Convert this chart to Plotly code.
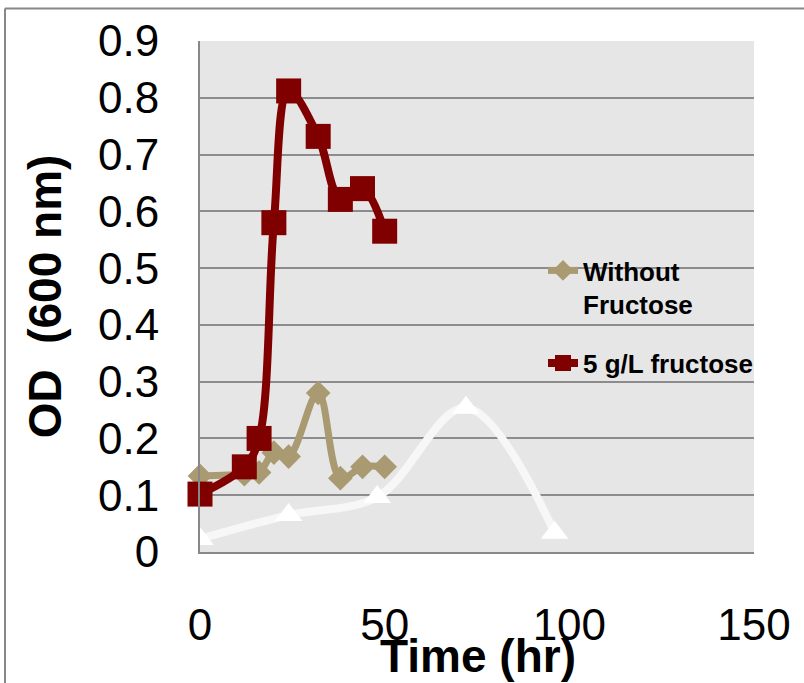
import plotly.graph_objects as go

# Data
time_main = [0, 12, 16, 20, 24, 32, 38, 44, 50]
without_fructose = [0.134, 0.137, 0.14, 0.175, 0.168, 0.28, 0.13, 0.15, 0.15]
fructose_5gl = [0.102, 0.15, 0.20, 0.58, 0.812, 0.732, 0.621, 0.64, 0.565]
time_other = [0, 24, 48, 72, 96]
other_series = [0.023, 0.065, 0.097, 0.254, 0.034]

x_ticks = [0, 50, 100, 150]
y_ticks = [0, 0.1, 0.2, 0.3, 0.4, 0.5, 0.6, 0.7, 0.8, 0.9]

FONT = "Liberation Sans, Arial, sans-serif"
L, R, T, B = 200, 50, 41, 131
W, H = 804, 683
pw, ph = W - L - R, H - T - B

def px(xp):
    return (xp - L) / pw

def py(yp):
    return (H - B - yp) / ph

fig = go.Figure()

fig.add_trace(go.Scatter(
    x=time_other, y=other_series, mode="lines+markers",
    line=dict(color="#f7f7f7", width=8, shape="spline"),
    marker=dict(symbol="triangle-up", size=24, color="#ffffff"),
    showlegend=False, cliponaxis=False,
))
fig.add_trace(go.Scatter(
    x=time_main, y=without_fructose, mode="lines+markers",
    name="Without<br>Fructose", legendgroup="a", legendrank=1,
    line=dict(color="#a99a72", width=7, shape="spline"),
    marker=dict(symbol="diamond", size=19, color="#a99a72"),
    cliponaxis=False,
))
fig.add_trace(go.Scatter(
    x=time_main, y=fructose_5gl, mode="lines+markers",
    name="5 g/L fructose", legendgroup="b", legendrank=2,
    line=dict(color="#800000", width=8, shape="spline"),
    marker=dict(symbol="square", size=25, color="#800000"),
    cliponaxis=False,
))

fig.update_layout(
    width=W, height=H, autosize=False,
    margin=dict(l=L, r=R, t=T, b=B, pad=0),
    paper_bgcolor="#ffffff", plot_bgcolor="#e6e6e6",
    font=dict(family=FONT, color="#000000"),
    legend=dict(
        x=px(543), y=py(247), xanchor="left", yanchor="top",
        font=dict(family=FONT, size=26, color="#000000", weight="bold"),
        bgcolor="rgba(0,0,0,0)", valign="top", tracegroupgap=22,
    ),
    xaxis=dict(
        range=[0, 150], tickvals=x_ticks, ticktext=[str(v) for v in x_ticks],
        showgrid=False, zeroline=False, showline=True, linecolor="#888888", linewidth=2,
        ticks="", tickfont=dict(family=FONT, size=44, color="#000000"),
        ticklabelstandoff=33,
    ),
    yaxis=dict(
        range=[0, 0.9], tickvals=y_ticks, ticktext=[("%g" % v) for v in y_ticks],
        showgrid=True, gridcolor="#8c8c8c", gridwidth=2,
        zeroline=False, showline=True, linecolor="#888888", linewidth=2,
        ticks="", tickfont=dict(family=FONT, size=44, color="#000000"),
        ticklabelstandoff=30,
        title=dict(text="OD  (600 nm)", font=dict(family=FONT, size=46, color="#000000", weight="bold"), standoff=22),
    ),
    annotations=[dict(
        text="<b>Time (hr)</b>", x=px(478), y=py(656), xref="paper", yref="paper",
        xanchor="center", yanchor="middle", showarrow=False,
        font=dict(family=FONT, size=46, color="#000000"),
    )],
    shapes=[
        dict(type="line", xref="paper", yref="paper", x0=px(5), x1=px(804), y0=py(8.5), y1=py(8.5),
             line=dict(color="#878787", width=2)),
        dict(type="line", xref="paper", yref="paper", x0=px(5), x1=px(5), y0=py(8.5), y1=py(683),
             line=dict(color="#878787", width=2)),
    ],
)

fig.write_html("out.html")
